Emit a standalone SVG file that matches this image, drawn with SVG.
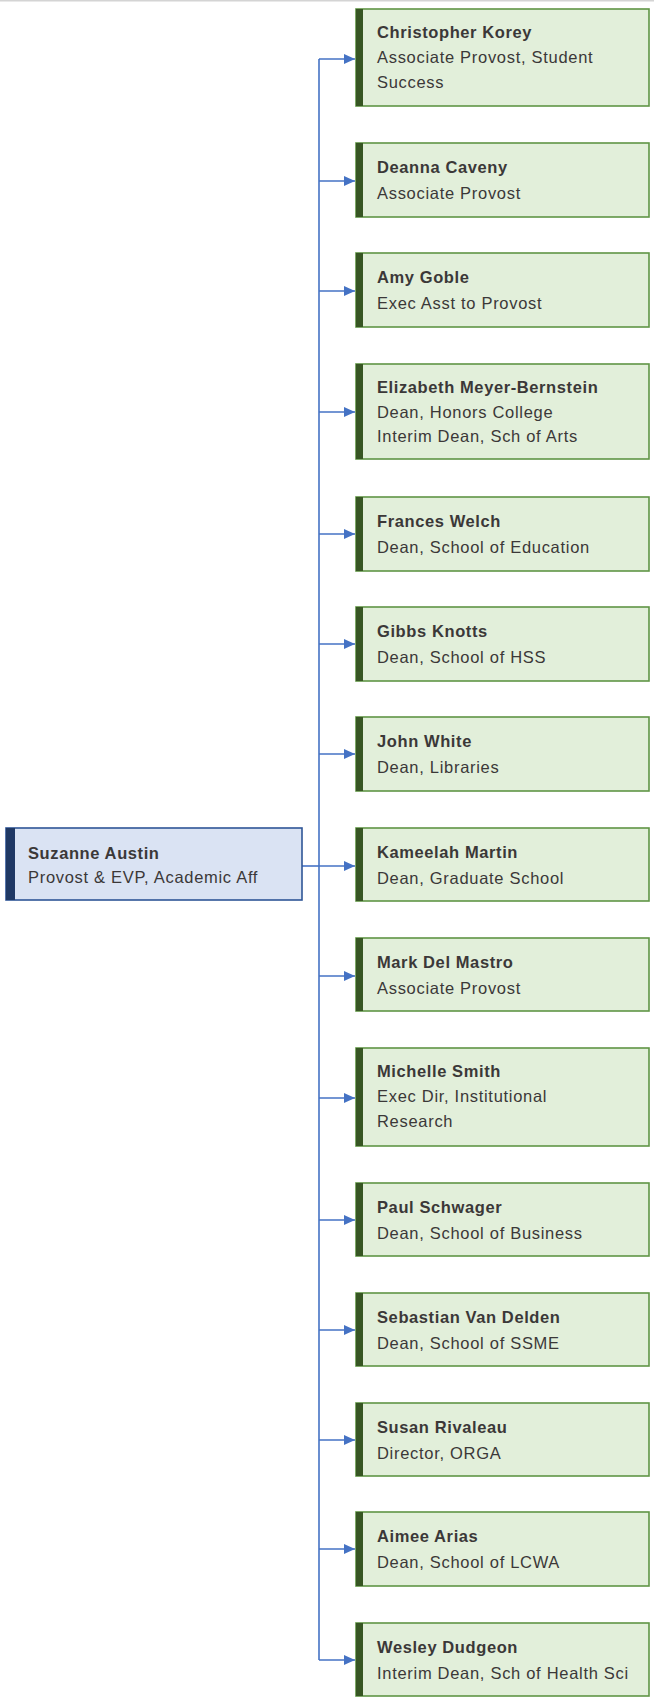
<svg xmlns="http://www.w3.org/2000/svg" width="654" height="1697" viewBox="0 0 654 1697">
<style>
.bx{fill:#e2efda;stroke:#609545;stroke-width:1.6}
.bar{fill:#375623}
.rbx{fill:#dae3f3;stroke:#2f5597;stroke-width:1.6}
.rbar{fill:#1f3864}
text{font-family:"Liberation Sans",Arial,sans-serif;font-size:16.5px;letter-spacing:0.7px;fill:#3b3838}
.n{font-weight:bold;letter-spacing:0.6px}
.c{fill:none;stroke:#4472c4;stroke-width:1.6}
</style>
<defs>
<marker id="ah" markerWidth="12" markerHeight="12" refX="11" refY="6" orient="auto" markerUnits="userSpaceOnUse">
<path d="M0,1 L11,6 L0,11 Z" fill="#4472c4"/>
</marker>
</defs>
<rect x="0" y="0" width="654" height="1697" fill="#ffffff"/>
<rect x="0" y="0" width="654" height="1.5" fill="#d4d4d4"/>
<g id="connectors">
<path class="c" d="M302,866 H319"/>
<path class="c" d="M319,59 V1660"/>
<path class="c" d="M319,59 H355" marker-end="url(#ah)"/>
<path class="c" d="M319,181 H355" marker-end="url(#ah)"/>
<path class="c" d="M319,291 H355" marker-end="url(#ah)"/>
<path class="c" d="M319,412 H355" marker-end="url(#ah)"/>
<path class="c" d="M319,534 H355" marker-end="url(#ah)"/>
<path class="c" d="M319,644 H355" marker-end="url(#ah)"/>
<path class="c" d="M319,754 H355" marker-end="url(#ah)"/>
<path class="c" d="M319,866 H355" marker-end="url(#ah)"/>
<path class="c" d="M319,976 H355" marker-end="url(#ah)"/>
<path class="c" d="M319,1098 H355" marker-end="url(#ah)"/>
<path class="c" d="M319,1220 H355" marker-end="url(#ah)"/>
<path class="c" d="M319,1330 H355" marker-end="url(#ah)"/>
<path class="c" d="M319,1440 H355" marker-end="url(#ah)"/>
<path class="c" d="M319,1549 H355" marker-end="url(#ah)"/>
<path class="c" d="M319,1660 H355" marker-end="url(#ah)"/>
</g>
<g id="root">
<rect class="rbx" x="6" y="828" width="296" height="72"/>
<rect class="rbar" x="6" y="828" width="9" height="72"/>
<text class="n" x="28" y="859">Suzanne Austin</text>
<text x="28" y="883">Provost &amp; EVP, Academic Aff</text>
</g>
<g id="n1">
<rect class="bx" x="356" y="9" width="293" height="97"/>
<rect class="bar" x="356" y="9" width="7" height="97"/>
<text class="n" x="377" y="38">Christopher Korey</text>
<text x="377" y="63">Associate Provost, Student</text>
<text x="377" y="88">Success</text>
</g>
<g id="n2">
<rect class="bx" x="356" y="143" width="293" height="74"/>
<rect class="bar" x="356" y="143" width="7" height="74"/>
<text class="n" x="377" y="173">Deanna Caveny</text>
<text x="377" y="199">Associate Provost</text>
</g>
<g id="n3">
<rect class="bx" x="356" y="253" width="293" height="74"/>
<rect class="bar" x="356" y="253" width="7" height="74"/>
<text class="n" x="377" y="283">Amy Goble</text>
<text x="377" y="309">Exec Asst to Provost</text>
</g>
<g id="n4">
<rect class="bx" x="356" y="364" width="293" height="95"/>
<rect class="bar" x="356" y="364" width="7" height="95"/>
<text class="n" x="377" y="393">Elizabeth Meyer-Bernstein</text>
<text x="377" y="418">Dean, Honors College</text>
<text x="377" y="442">Interim Dean, Sch of Arts</text>
</g>
<g id="n5">
<rect class="bx" x="356" y="497" width="293" height="74"/>
<rect class="bar" x="356" y="497" width="7" height="74"/>
<text class="n" x="377" y="527">Frances Welch</text>
<text x="377" y="553">Dean, School of Education</text>
</g>
<g id="n6">
<rect class="bx" x="356" y="607" width="293" height="74"/>
<rect class="bar" x="356" y="607" width="7" height="74"/>
<text class="n" x="377" y="637">Gibbs Knotts</text>
<text x="377" y="663">Dean, School of HSS</text>
</g>
<g id="n7">
<rect class="bx" x="356" y="717" width="293" height="74"/>
<rect class="bar" x="356" y="717" width="7" height="74"/>
<text class="n" x="377" y="747">John White</text>
<text x="377" y="773">Dean, Libraries</text>
</g>
<g id="n8">
<rect class="bx" x="356" y="828" width="293" height="73"/>
<rect class="bar" x="356" y="828" width="7" height="73"/>
<text class="n" x="377" y="858">Kameelah Martin</text>
<text x="377" y="884">Dean, Graduate School</text>
</g>
<g id="n9">
<rect class="bx" x="356" y="938" width="293" height="73"/>
<rect class="bar" x="356" y="938" width="7" height="73"/>
<text class="n" x="377" y="968">Mark Del Mastro</text>
<text x="377" y="994">Associate Provost</text>
</g>
<g id="n10">
<rect class="bx" x="356" y="1048" width="293" height="98"/>
<rect class="bar" x="356" y="1048" width="7" height="98"/>
<text class="n" x="377" y="1077">Michelle Smith</text>
<text x="377" y="1102">Exec Dir, Institutional</text>
<text x="377" y="1127">Research</text>
</g>
<g id="n11">
<rect class="bx" x="356" y="1183" width="293" height="73"/>
<rect class="bar" x="356" y="1183" width="7" height="73"/>
<text class="n" x="377" y="1213">Paul Schwager</text>
<text x="377" y="1239">Dean, School of Business</text>
</g>
<g id="n12">
<rect class="bx" x="356" y="1293" width="293" height="73"/>
<rect class="bar" x="356" y="1293" width="7" height="73"/>
<text class="n" x="377" y="1323">Sebastian Van Delden</text>
<text x="377" y="1349">Dean, School of SSME</text>
</g>
<g id="n13">
<rect class="bx" x="356" y="1403" width="293" height="73"/>
<rect class="bar" x="356" y="1403" width="7" height="73"/>
<text class="n" x="377" y="1433">Susan Rivaleau</text>
<text x="377" y="1459">Director, ORGA</text>
</g>
<g id="n14">
<rect class="bx" x="356" y="1512" width="293" height="74"/>
<rect class="bar" x="356" y="1512" width="7" height="74"/>
<text class="n" x="377" y="1542">Aimee Arias</text>
<text x="377" y="1568">Dean, School of LCWA</text>
</g>
<g id="n15">
<rect class="bx" x="356" y="1623" width="293" height="73"/>
<rect class="bar" x="356" y="1623" width="7" height="73"/>
<text class="n" x="377" y="1653">Wesley Dudgeon</text>
<text x="377" y="1679">Interim Dean, Sch of Health Sci</text>
</g>
</svg>
